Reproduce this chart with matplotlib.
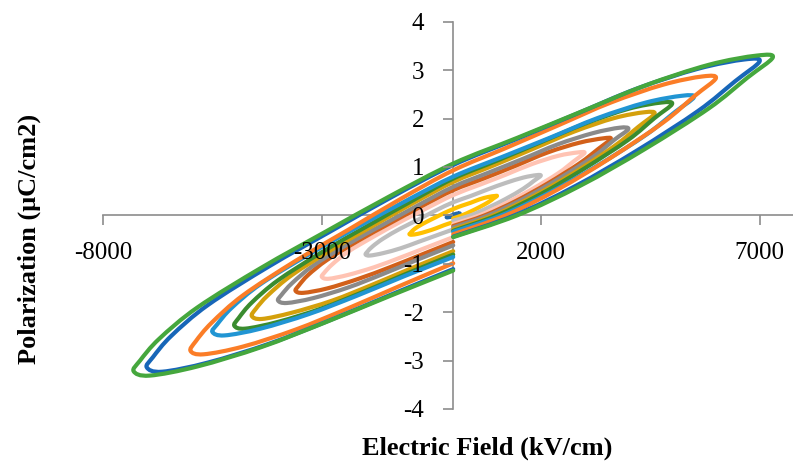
import matplotlib
matplotlib.use("Agg")
import matplotlib.pyplot as plt
from matplotlib.path import Path
from matplotlib.patches import PathPatch

# P-E loops, E in kV/cm, P in uC/cm2
green_E = [0, 1460, 2920, 4380, 5840, 6716, 7300, 6935, 5840, 4380, 2920, 1460, 0,
           -1460, -2920, -4380, -5840, -6716, -7154, -7300, -6935, -5840, -4380, -2920, -1460, 0]
green_P = [-0.45, 0.00, 0.62, 1.37, 2.21, 2.84, 3.26, 3.30, 3.11, 2.68, 2.14, 1.60, 1.07,
           0.39, -0.34, -1.08, -1.90, -2.55, -3.00, -3.22, -3.31, -3.12, -2.72, -2.21, -1.67, -1.14]

blue_E = [0, 1400, 2800, 4200, 5600, 6440, 7000, 6650, 5600, 4200, 2800, 1400, 0,
          -1400, -2800, -4200, -5600, -6440, -6860, -7000, -6650, -5600, -4200, -2800, -1400, 0]
blue_P = [-0.44, 0.00, 0.61, 1.34, 2.16, 2.77, 3.18, 3.22, 3.03, 2.62, 2.09, 1.56, 1.04,
          0.38, -0.33, -1.05, -1.85, -2.49, -2.93, -3.14, -3.23, -3.04, -2.65, -2.16, -1.63, -1.11]

orange_E = [0, 1200, 2400, 3600, 4800, 5520, 6000, 5700, 4800, 3600, 2400, 1200, 0,
            -1200, -2400, -3600, -4800, -5520, -5880, -6000, -5700, -4800, -3600, -2400, -1200, 0]
orange_P = [-0.39, 0.00, 0.54, 1.19, 1.92, 2.47, 2.83, 2.87, 2.70, 2.33, 1.86, 1.39, 0.93,
            0.34, -0.30, -0.94, -1.65, -2.22, -2.60, -2.80, -2.87, -2.71, -2.36, -1.92, -1.45, -0.99]

lblue_E = [0, 1100, 2200, 3300, 4400, 5060, 5500, 5225, 4400, 3300, 2200, 1100, 0,
           -1100, -2200, -3300, -4400, -5060, -5390, -5500, -5225, -4400, -3300, -2200, -1100, 0]
lblue_P = [-0.34, 0.00, 0.47, 1.03, 1.66, 2.13, 2.44, 2.47, 2.33, 2.01, 1.60, 1.20, 0.80,
           0.29, -0.25, -0.81, -1.42, -1.91, -2.25, -2.41, -2.48, -2.34, -2.04, -1.66, -1.25, -0.86]

dgreen_E = [0, 1000, 2000, 3000, 4000, 4600, 5000, 4750, 4000, 3000, 2000, 1000, 0,
            -1000, -2000, -3000, -4000, -4600, -4900, -5000, -4750, -4000, -3000, -2000, -1000, 0]
dgreen_P = [-0.32, 0.00, 0.44, 0.97, 1.56, 2.01, 2.30, 2.33, 2.20, 1.89, 1.51, 1.13, 0.76,
            0.27, -0.24, -0.76, -1.34, -1.80, -2.12, -2.28, -2.34, -2.20, -1.92, -1.56, -1.18, -0.81]

gold_E = [0, 920, 1840, 2760, 3680, 4232, 4600, 4370, 3680, 2760, 1840, 920, 0,
          -920, -1840, -2760, -3680, -4232, -4508, -4600, -4370, -3680, -2760, -1840, -920, 0]
gold_P = [-0.29, 0.00, 0.40, 0.88, 1.43, 1.83, 2.10, 2.13, 2.01, 1.73, 1.38, 1.03, 0.69,
          0.25, -0.22, -0.70, -1.23, -1.65, -1.93, -2.08, -2.14, -2.01, -1.76, -1.43, -1.08, -0.74]

gray_E = [0, 800, 1600, 2400, 3200, 3680, 4000, 3800, 3200, 2400, 1600, 800, 0,
          -800, -1600, -2400, -3200, -3680, -3920, -4000, -3800, -3200, -2400, -1600, -800, 0]
gray_P = [-0.25, 0.00, 0.34, 0.75, 1.21, 1.56, 1.78, 1.81, 1.70, 1.47, 1.17, 0.88, 0.59,
          0.21, -0.19, -0.59, -1.04, -1.40, -1.64, -1.76, -1.81, -1.71, -1.49, -1.21, -0.91, -0.62]

dorange_E = [0, 720, 1440, 2160, 2880, 3312, 3600, 3420, 2880, 2160, 1440, 720, 0,
             -720, -1440, -2160, -2880, -3312, -3528, -3600, -3420, -2880, -2160, -1440, -720, 0]
dorange_P = [-0.22, 0.00, 0.30, 0.66, 1.07, 1.37, 1.58, 1.59, 1.50, 1.30, 1.03, 0.77, 0.52,
             0.19, -0.16, -0.52, -0.92, -1.23, -1.45, -1.56, -1.60, -1.51, -1.31, -1.07, -0.81, -0.55]

salmon_E = [0, 600, 1200, 1800, 2400, 2760, 3000, 2850, 2400, 1800, 1200, 600, 0,
            -600, -1200, -1800, -2400, -2760, -2940, -3000, -2850, -2400, -1800, -1200, -600, 0]
salmon_P = [-0.18, 0.00, 0.25, 0.54, 0.87, 1.12, 1.29, 1.30, 1.23, 1.06, 0.84, 0.63, 0.42,
            0.15, -0.13, -0.43, -0.75, -1.01, -1.18, -1.27, -1.31, -1.23, -1.07, -0.87, -0.66, -0.45]

lgray_E = [0, 400, 800, 1200, 1600, 1840, 2000, 1900, 1600, 1200, 800, 400, 0,
           -400, -800, -1200, -1600, -1840, -1960, -2000, -1900, -1600, -1200, -800, -400, 0]
lgray_P = [-0.11, 0.00, 0.16, 0.34, 0.55, 0.71, 0.82, 0.83, 0.78, 0.67, 0.54, 0.40, 0.27,
           0.10, -0.09, -0.27, -0.48, -0.64, -0.75, -0.81, -0.83, -0.78, -0.68, -0.55, -0.42, -0.29]

yellow_E = [0, 200, 400, 600, 800, 920, 1000, 950, 800, 600, 400, 200, 0,
            -200, -400, -600, -800, -920, -980, -1000, -950, -800, -600, -400, -200, 0]
yellow_P = [-0.06, 0.00, 0.08, 0.17, 0.27, 0.35, 0.40, 0.40, 0.38, 0.33, 0.26, 0.20, 0.13,
            0.05, -0.04, -0.13, -0.23, -0.31, -0.37, -0.39, -0.40, -0.38, -0.33, -0.27, -0.20, -0.14]

tiny_E = [0, 60, 120, 150, 120, 60, 0, -60, -120, -150, -120, -60, 0]
tiny_P = [-0.01, 0.00, 0.03, 0.04, 0.04, 0.03, 0.01, -0.01, -0.03, -0.04, -0.04, -0.03, -0.02]

x_ticks = [-8000, -3000, 2000, 7000]
y_ticks = [-4, -3, -2, -1, 0, 1, 2, 3, 4]

loops = [
    (tiny_E, tiny_P, "#2468a8"),
    (yellow_E, yellow_P, "#ffc000"),
    (lgray_E, lgray_P, "#bdbdbd"),
    (salmon_E, salmon_P, "#ffc3b3"),
    (dorange_E, dorange_P, "#d2601a"),
    (gray_E, gray_P, "#8a8a8a"),
    (gold_E, gold_P, "#d4a00c"),
    (dgreen_E, dgreen_P, "#3a8c2f"),
    (lblue_E, lblue_P, "#2195d3"),
    (orange_E, orange_P, "#fb7d27"),
    (blue_E, blue_P, "#1766b8"),
    (green_E, green_P, "#45a73d"),
]


def smooth_path(xs, ys):
    # smoothed scatter line like Excel: cubic bezier through the points
    pts = list(zip(xs, ys))
    verts = [pts[0]]
    codes = [Path.MOVETO]
    n = len(pts)
    for i in range(n - 1):
        p0 = pts[i - 1] if i > 0 else pts[i]
        p1 = pts[i]
        p2 = pts[i + 1]
        p3 = pts[i + 2] if i + 2 < n else pts[i + 1]
        c1 = (p1[0] + (p2[0] - p0[0]) / 6, p1[1] + (p2[1] - p0[1]) / 6)
        c2 = (p2[0] - (p3[0] - p1[0]) / 6, p2[1] - (p3[1] - p1[1]) / 6)
        verts += [c1, c2, p2]
        codes += [Path.CURVE4] * 3
    return Path(verts, codes)


plt.rcParams['font.family'] = ['Liberation Serif', 'DejaVu Serif']
plt.rcParams['axes.unicode_minus'] = False

fig = plt.figure(figsize=(7.93, 4.61), dpi=100)
ax = fig.add_axes([0.1299, 0.1128, 0.8701, 0.8401])

for E, P, c in loops:
    ax.add_patch(PathPatch(smooth_path(E, P), facecolor='none', edgecolor=c, lw=3,
                           joinstyle='round', capstyle='round', zorder=2))

ax.set_xlim(-8000, 7763)
ax.set_ylim(-4, 4)
ax.set_xticks(x_ticks)
ax.set_yticks(y_ticks)
ax.set_axisbelow(False)

axis_gray = "#8c8c8c"
ax.spines['left'].set_position(('data', 0))
ax.spines['bottom'].set_position(('data', 0))
ax.spines['top'].set_visible(False)
ax.spines['right'].set_visible(False)
for s in ('left', 'bottom'):
    ax.spines[s].set_color(axis_gray)
    ax.spines[s].set_linewidth(1.2)
    ax.spines[s].set_zorder(0)

ax.tick_params(axis='x', direction='out', length=7, width=1.2, color=axis_gray,
               pad=12, labelsize=18)
ax.tick_params(axis='y', direction='out', length=7, width=1.2, color=axis_gray,
               pad=14, labelsize=18)

fig.text(0.614, 0.028, "Electric Field (kV/cm)", ha='center', va='center',
         fontsize=19, fontweight='bold')
fig.text(0.037, 0.4816, "Polarization (μC/cm2)", ha='center', va='center',
         rotation=90, fontsize=19, fontweight='bold')

fig.savefig("out.png", dpi=100)
